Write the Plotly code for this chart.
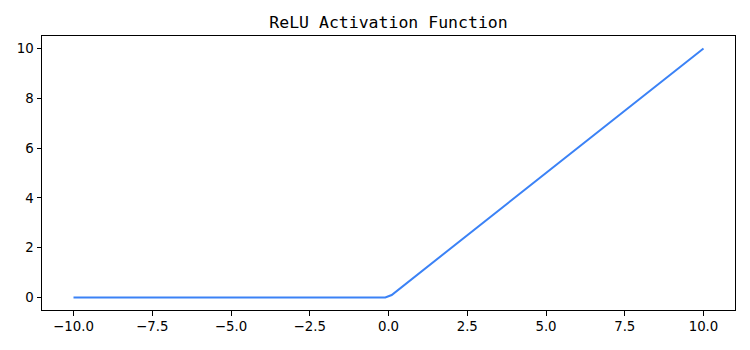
import plotly.graph_objects as go

x_vals = [-10.0, -0.101, 0.101, 10.0]
y_vals = [0.0, 0.0, 0.101, 10.0]
x_ticks = [-10, -7.5, -5, -2.5, 0, 2.5, 5, 7.5, 10]
x_tick_text = ["\u221210.0", "\u22127.5", "\u22125.0", "\u22122.5", "0.0", "2.5", "5.0", "7.5", "10.0"]
y_ticks = [0, 2, 4, 6, 8, 10]
y_tick_text = ["0", "2", "4", "6", "8", "10"]

fig = go.Figure()
fig.add_trace(go.Scatter(x=x_vals, y=y_vals, mode="lines",
                         line=dict(color="#3b82f6", width=2), showlegend=False))

axis_common = dict(showgrid=False, zeroline=False, showline=True, linecolor="black",
                   linewidth=1, mirror=True, ticks="outside", ticklen=4.5, tickwidth=1,
                   tickcolor="black", tickfont=dict(family="DejaVu Sans", size=13.33, color="black"))

fig.update_xaxes(range=[-11, 11], tickvals=x_ticks, ticktext=x_tick_text, **axis_common)
fig.update_yaxes(range=[-0.5, 10.5], tickvals=y_ticks, ticktext=y_tick_text, **axis_common)

fig.update_layout(
    width=750, height=350,
    margin=dict(l=41.5, r=14.5, t=35.5, b=39.5),
    plot_bgcolor="white", paper_bgcolor="white",
    title=dict(text="ReLU Activation Function", x=(41.5 + 735.5) / 2 / 750, xanchor="center",
               y=1 - 22 / 350, yanchor="middle", yref="container",
               font=dict(family="DejaVu Sans Mono", size=16.5, color="black")),
)

fig.write_html("out.html")
